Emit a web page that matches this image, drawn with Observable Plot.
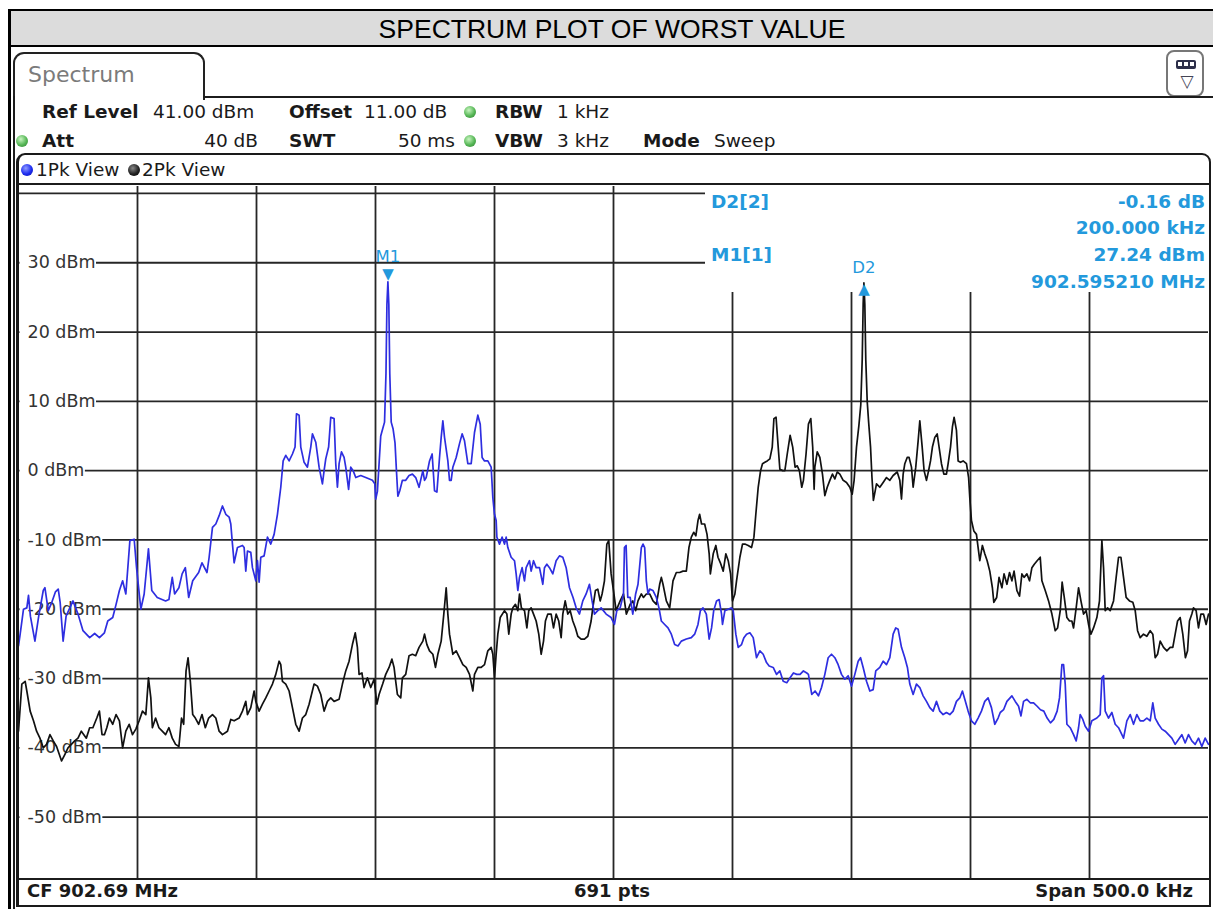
<!DOCTYPE html>
<html><head><meta charset="utf-8">
<script src="https://cdn.jsdelivr.net/npm/d3@7"></script>
<script src="https://cdn.jsdelivr.net/npm/@observablehq/plot@0.6"></script>
<style>
body{margin:0;background:#fff;}
#page{position:relative;width:1213px;height:909px;overflow:hidden;font-family:"DejaVu Sans",sans-serif;color:#1a1a1a;}
.a{position:absolute;white-space:nowrap;}
.ln{position:absolute;background:#1c1c1c;}
.h{font-size:18.5px;line-height:22px;}
.b{font-weight:bold;}
.gdot{position:absolute;width:12px;height:12px;border-radius:50%;background:radial-gradient(circle at 40% 35%,#c8f5c0,#55b655 55%,#2f7d32);}
</style></head>
<body><div id="page">
<div class="a" style="left:8px;top:9px;width:1210px;height:38px;box-sizing:border-box;background:#dcdcdc;border-top:2px solid #000;border-bottom:2px solid #000;"></div>
<div class="a" style="left:0;width:1224px;top:12px;height:34px;line-height:34px;text-align:center;font-family:'Liberation Sans',Arial,sans-serif;font-size:26.5px;color:#000;">SPECTRUM PLOT OF WORST VALUE</div>
<div class="a" style="left:13px;top:52px;width:192px;height:48px;box-sizing:border-box;border:2px solid #222;border-bottom:none;border-radius:11px 11px 0 0;background:#fff;"></div>
<div class="a" style="left:28px;top:62px;line-height:26px;font-size:22px;color:#7b7b7b;">Spectrum</div>
<div class="a" style="left:1166px;top:50px;width:38px;height:47px;box-sizing:border-box;border:2px solid #777;border-radius:8px;background:#fff;"></div>
<div class="a" style="left:1176px;top:60px;width:20px;height:9px;background:#2d2f4a;border-radius:2px;"></div>
<div class="a" style="left:1178px;top:62px;width:4px;height:4px;background:#fff;"></div>
<div class="a" style="left:1184px;top:62px;width:4px;height:4px;background:#fff;"></div>
<div class="a" style="left:1190px;top:62px;width:4px;height:4px;background:#fff;"></div>
<div class="a" style="left:1176px;top:70px;width:22px;line-height:22px;text-align:center;font-size:17px;color:#445;">▽</div>

<div class="a h b" style="left:42px;top:101px;">Ref Level</div>
<div class="a h" style="left:153px;top:101px;">41.00 dBm</div>
<div class="a h b" style="left:289px;top:101px;">Offset</div>
<div class="a h" style="left:364px;top:101px;">11.00 dB</div>
<div class="gdot" style="left:464px;top:106px;"></div>
<div class="a h b" style="left:495px;top:101px;">RBW</div>
<div class="a h" style="left:557px;top:101px;">1 kHz</div>

<div class="gdot" style="left:16px;top:135px;"></div>
<div class="a h b" style="left:42px;top:130px;">Att</div>
<div class="a h" style="right:955px;top:130px;">40 dB</div>
<div class="a h b" style="left:289px;top:130px;">SWT</div>
<div class="a h" style="right:758px;top:130px;">50 ms</div>
<div class="gdot" style="left:464px;top:135px;"></div>
<div class="a h b" style="left:495px;top:130px;">VBW</div>
<div class="a h" style="left:557px;top:130px;">3 kHz</div>
<div class="a h b" style="left:643px;top:130px;">Mode</div>
<div class="a h" style="left:714px;top:130px;">Sweep</div>

<div class="a" style="left:21px;top:164px;width:12px;height:12px;border-radius:50%;background:radial-gradient(circle at 40% 35%,#8f9bff,#1d2cf0 55%,#0a12a0);"></div>
<div class="a h" style="left:36px;top:159px;">1Pk View</div>
<div class="a" style="left:128px;top:164px;width:12px;height:12px;border-radius:50%;background:radial-gradient(circle at 40% 35%,#888,#222 55%,#000);"></div>
<div class="a h" style="left:142px;top:159px;">2Pk View</div>

<div id="chart" class="a" style="left:0;top:184px;width:1213px;height:696px;"></div>

<div class="a b" style="left:27px;top:880px;font-size:18px;line-height:22px;">CF 902.69 MHz</div>
<div class="a b" style="left:0;width:1224px;text-align:center;top:880px;font-size:18px;line-height:22px;">691 pts</div>
<div class="a b" style="right:20px;top:880px;font-size:18px;line-height:22px;">Span 500.0 kHz</div>

<div class="a" style="left:16px;top:153px;width:1195px;height:754px;box-sizing:border-box;border:2.5px solid #1a1a1a;border-left-width:3px;border-radius:9px 9px 0 0;"></div>
<div class="ln" style="left:17px;top:183px;width:1193px;height:2px;"></div>
<div class="ln" style="left:17px;top:878px;width:1193px;height:2px;"></div>
<div class="ln" style="left:203px;top:96px;width:1010px;height:2px;"></div>
<div class="ln" style="left:13px;top:96px;width:2px;height:813px;"></div>
<div class="ln" style="left:8px;top:9px;width:2.5px;height:900px;background:#000;"></div>
</div>
<script>
// Frequency axis: offset in kHz from the start frequency (CF 902.69 MHz, span 500 kHz)
const levelGrid = [40, 30, 20, 10, 0, -10, -20, -30, -40, -50];
const levelLabels = [30, 20, 10, 0, -10, -20, -30, -40, -50];
const freqGrid = [50, 100, 150, 200, 250, 300, 350, 400, 450];

// Trace 1 (1Pk View, blue): [kHz offset, dBm]
const trace1 = [[0,-25.3],[0.7,-23.6],[2.1,-20],[3.5,-19.8],[4.2,-18],[5,-21],[6.9,-24.6],[8.5,-21],[10.4,-17.3],[11.1,-16.9],[12.5,-20.2],[14,-19],[15.5,-17.5],[16.7,-17.1],[17.5,-19],[18.75,-24.6],[20,-21],[22.9,-18.8],[25,-20.7],[27.1,-23.1],[29.9,-24.1],[32,-23.5],[34,-24.1],[36.1,-23.4],[37.5,-21.7],[39.6,-21.2],[41,-19.3],[42.4,-17.3],[43.75,-15.9],[45.1,-17.8],[46.8,-10.1],[48.6,-9.9],[49.6,-14],[51.4,-20],[52.8,-17.8],[54.6,-11.3],[56,-17.3],[58.3,-18.3],[61.8,-18.8],[63.2,-18.6],[64.6,-15.4],[65.6,-17.8],[67.4,-16.9],[68.75,-14.9],[70.1,-14],[71.5,-18.3],[73.2,-15.9],[75.7,-14.7],[77.1,-13.3],[79.2,-14.7],[80.1,-12.5],
[81.5,-8.2],[82.9,-7.7],[84.3,-6.5],[85.7,-5.1],[87.1,-6.3],[88.5,-6.7],[89.2,-7.7],[89.9,-10.6],[90.6,-13.3],[92,-11.1],[94.1,-10.8],[94.8,-11.1],[95.5,-14.5],[96.2,-11.6],[97.6,-11.8],[98.3,-14],[99.7,-15.9],[100.4,-13],[101.1,-16.1],[101.8,-12.5],[103.2,-12.3],[104.6,-9.6],[106,-10.6],[107.4,-9.2],[108.8,-6.3],[110.2,-2.4],[111.2,1.4],[112.3,2.2],[113.7,1.4],[115.1,2.4],[116.2,3.4],[116.8,8.2],[117.9,8],[118.6,3.4],[120,1.2],[121.4,0.5],[122.8,3.4],[123.5,5.3],[124.9,4.1],[126.3,0.5],[127.7,-1.9],[128.4,0],[129.1,1.7],[130.3,3.4],[131.2,7.7],[132.6,7.5],[133.3,1],[134,-2.4],[134.7,1],[135.7,2.7],[136.8,1.9],[137.5,0.5],[138.7,-2.7],[139.6,0.5],[140.6,0],[141.7,-1],[143.8,-0.7],[145.9,-1],[148.7,-1.4],[149.7,-1.9],[150.1,-4.1],
[150.8,-3],[151.5,1],[152.2,5],[153,6],[153.8,7],[154.4,14],[154.8,24],[155.21,27.24],[155.6,24],[156,14],[156.6,7],[157.4,6],[158.2,4],[158.8,0],[159.4,-3.7],
[160.2,-2.9],[161.3,-1.4],[162.7,-1.4],[164.1,-0.7],[165.5,-0.5],[166.9,-1],[168.3,-2.4],
[169.9,0],[170.6,-1.4],[171.3,-1],[172.7,1.4],[173.8,2.4],[174.8,-2.9],[175.8,-3.1],[176.9,1.9],[177.6,4.8],[178.3,7.2],[179,4.8],[180.4,1.4],[181.1,-1.4],[181.8,-1.4],[182.5,0.5],[183.9,1.9],[185.3,3.9],[186.4,5.3],[187.4,4.3],[188.8,1],[190.2,1],[191.6,5.5],[193,8],[194,6.7],[194.8,1.9],[195.8,1.4],[197.2,1.4],[198.6,0.5],[199.3,-3.9],[200,-6.3],[200.7,-7.2],[201,-9.6],[202.1,-10.6],[203.2,-9.6],[204.2,-10.6],[204.9,-9.6],[205.6,-11.1],[207,-12.5],[208.4,-13],[209.1,-14.9],[209.8,-17.3],[210.5,-15.4],[211.6,-14],[212.6,-15.9],[213.3,-14],[214.7,-13],[215.4,-14.5],[216.4,-13],[217.5,-14],[218.9,-14],[220.3,-16.4],[221,-14],[222,-13.5],[223.1,-14],[224.5,-14.9],[225.9,-13],[227.3,-12.3],[228.7,-12.5],[230.1,-14],[231.5,-16.9],[233,-18.3],[234.3,-19.8],[235.7,-20.7],[237.1,-18.8],[238.5,-17.8],[239.9,-16.4],[241,-18.8],[242,-20.7],[243.4,-20.2],[244.8,-19.8],[246.9,-20.7],[249,-21.2],[250.4,-22.2],[251.4,-20.2],
[252.8,-19.8],[254.2,-17.8],[254.6,-11.1],[255.3,-10.8],[256,-18.3],[257,-18.3],[258.1,-20.7],[259.3,-17.8],[260.3,-16.4],[261.7,-11.1],[262.4,-10.6],[263.1,-11.1],[263.8,-15.9],[264.5,-17.8],[265.2,-17.1],[266.6,-17.3],[268,-18.3],[269.1,-19.8],[270.1,-21.7],[271.5,-22.2],[272.9,-22.7],[274.3,-23.6],[275.7,-25.1],[277.1,-25.3],[278.5,-24.6],[280.6,-24.3],[282.7,-24.1],[284.1,-23.6],[285.5,-22.2],[286.5,-20.2],[287.6,-19.8],[289,-20.7],[290.2,-24.3],[291.2,-22.7],[292.1,-20.2],[293.3,-18.8],[294.4,-18.6],[295.4,-20.7],[295.8,-22.2],[296.8,-20.2],[298.2,-20],[299.6,-19.8],[300.3,-20.2],[301.4,-23.6],[302.4,-25.5],[303.8,-25.1],[304.8,-24.1],[305.9,-23.6],[307.3,-23.4],[308.7,-24.1],[310.1,-27],[311.5,-26],[312.9,-26.5],[314.3,-27.7],[315.4,-28.2],[317.1,-28.4],[318.5,-29.4],[319.9,-28.9],[321.3,-30.4],[322.8,-30.6],[324.2,-29.9],[325.6,-29.2],[327,-29.4],[328.4,-29.4],[329.8,-28.9],[331.2,-29.2],[331.9,-29.4],[333.3,-32.3],[334.7,-31.8],[336.1,-32.5],
[337.4,-31.3],[338.8,-29.4],[340.2,-27],[341.6,-26.5],[343,-27],[344.4,-28],[345.8,-29.4],[347.2,-30.1],[348.6,-29.6],[350,-31.1],[351.4,-29.4],[352.8,-27.5],[353.8,-27],[354.9,-28.4],[356.3,-30.4],[357.7,-31.8],[359.1,-31.6],[360.2,-28.9],[361.9,-28.4],[363.3,-27.5],[364.7,-28],[366.1,-27],[367.5,-23.6],[368.6,-22.7],[369.6,-22.9],[371,-25.5],[372.4,-27],[373.5,-28.4],[374.5,-30.8],[375.9,-32.3],[377.3,-30.8],[378.7,-31.3],[380.1,-32.5],[381.5,-33.3],[382.9,-34.2],[384.3,-34.7],[385.7,-33.3],[387.1,-34.7],[388.5,-35.2],[389.9,-34.9],[391.3,-35.2],[392.7,-34.7],[394.1,-33.3],[395.5,-32.8],[396.6,-31.8],[397.6,-33],[399,-34.7],[400.4,-36.1],[401.8,-36.6],[403.2,-35.7],[404.6,-34.7],[406,-33.3],[407.4,-32.8],[408.8,-34.2],[410.2,-36.6],[411.6,-35.7],
[412.5,-34.9],[413.9,-34.5],[415.3,-33.3],[417.4,-32.5],[418.8,-33.3],[420.2,-34],[421.2,-35.4],[422.3,-33.3],[423.7,-33],[425.1,-33.5],[426.5,-33.5],[428,-34],[429.4,-34.5],[430.8,-34.7],[432.2,-35.7],[433.6,-36.4],[435,-35.9],[436.4,-34.7],[437.4,-32.8],[438.4,-28],[439.1,-28],[439.8,-30.8],[440.5,-36.6],[441.9,-37.1],[443.3,-38.1],[444.4,-39],[445.4,-37.1],[446.1,-35.2],[447.2,-35.9],[448.2,-36.9],[449.6,-37.6],[451,-36.1],[453.1,-35.7],[454.5,-35.2],[455.2,-29.9],[455.9,-29.6],[456.6,-34.7],[458,-35.7],[459.4,-34.9],[460.8,-36.6],[462.2,-37.1],[464.3,-38.6],[465.7,-36.1],[467.1,-35.2],[468.5,-36.6],[469.9,-35.2],[471.3,-36.1],[472.7,-36.1],[474.1,-35.7],[475.5,-36.1],[476.6,-33.5],[477.6,-35.7],[479,-36.6],[480.4,-37.3],[481.8,-37.6],[483.2,-38.1],[484.6,-38.6],[486,-39.5],[487.4,-38.8],[488.8,-38.1],[490.2,-39.3],[491.6,-38.1],[493,-39],[494.4,-39.5],[495.8,-38.6],[497.2,-39.8],[498.6,-38.6],[500,-39.5]];

// Trace 2 (2Pk View, black): [kHz offset, dBm]
const trace2 = [[0,-37.6],[1.4,-30.8],[2.8,-30.4],[3.5,-31.8],[4.9,-34.7],[6.3,-36.1],[7.6,-37.6],[9,-38.6],[10.4,-40],[11.8,-39.5],[13.2,-38.1],[14.6,-39],[16,-39.8],[18.1,-41.9],[19.4,-41],[20.8,-40],[22.2,-39.5],[23.6,-39],[25,-38.6],[26.4,-37.6],[28.5,-38.6],[29.9,-37.1],[31.25,-37.1],[32.9,-35.7],[34,-34.7],[35.1,-38.1],[36.1,-38.1],[37.1,-37.1],[38.2,-35.7],[39.6,-36.6],[41,-35.2],[42.4,-36.1],[43.75,-40],[45.1,-37.6],[46.5,-36.6],[47.9,-38.1],[49.3,-37.3],[50.7,-36.1],[52.1,-34.7],[53.5,-35.2],[54.6,-29.9],[55.6,-32.8],[56.25,-37.1],[57.6,-35.7],[59,-37.1],[60.4,-37.6],[61.8,-38.1],[63.2,-37.1],[64.6,-38.6],[66,-39.5],[67.4,-39.8],[68.5,-35.7],[69.4,-36.6],[70.4,-28.9],[71.25,-27],[72.2,-30.4],[73.2,-35.2],[74.3,-35.7],[75.7,-36.6],[77.1,-35.2],[78.5,-37.1],[79.9,-35.7],
[81.5,-35.2],[82.9,-35.7],[84.3,-37.6],[85.7,-38.1],[87.8,-37.6],[89.2,-35.9],[90.6,-36.1],[92.7,-35.7],[94.1,-34.7],[95.5,-33.3],[96.2,-35.2],[97.6,-34.2],[99,-31.8],[99.7,-33.3],[101.1,-34.7],[102.5,-33.7],[103.9,-32.8],[105.3,-31.8],[106.7,-30.8],[108.1,-29.4],[109.5,-27.5],[110.2,-28],[110.9,-30.4],[112.3,-30.8],[113.7,-31.8],[115.1,-34.2],[116.5,-36.6],[117.9,-37.6],[119.3,-35.7],[120.7,-35.2],[122.1,-33.7],[124.2,-30.8],[125.6,-31.1],[127,-32.3],[128.4,-34.7],[129.8,-33.3],[131.2,-32.8],[132.6,-33.3],[134.7,-33],[136.1,-30.8],[137.5,-28.9],[138.9,-27.5],[140.3,-25.1],[141.5,-23.4],[142.4,-25.5],[143.1,-29.4],[144.3,-29.2],[145.2,-31.3],[146.6,-29.9],[148,-31.3],[149.4,-30.1],[150.6,-33.7],[151.5,-32.3],[153,-30.8],[154.3,-29.4],[155.7,-28.4],[156.9,-27.2],[157.8,-28.4],[158.5,-30.4],[159.2,-32.3],[160.6,-32.8],[161.3,-29.9],[162.7,-29.4],[164.1,-26.7],[165.5,-26.5],[166.9,-26.7],[168.3,-25.5],
[169.9,-24.6],[170.6,-23.6],[171.6,-25.1],[172.7,-26],[174.1,-26.5],[175.2,-28.4],[176.2,-26.5],[177.6,-24.6],[178.7,-20.7],[179.7,-16.9],[180.4,-20.7],[181.1,-23.6],[182.5,-26.5],[183.9,-26],[185.3,-27],[186.7,-28],[188.1,-28.4],[189.5,-29.4],[190.9,-31.8],[191.6,-29.4],[193,-28.4],[194.4,-28.4],[195.8,-28],[197.2,-26],[198.6,-25.5],[199.3,-26.5],[200,-29.9],[200.7,-26.5],[201.4,-23.6],[202.4,-21.2],[204.2,-20.2],[205.2,-20.7],[206,-23.6],[207,-20.7],[207.7,-19.8],[208.8,-19.3],[209.8,-20.2],[210.5,-17.8],[211.3,-19.8],[212.6,-20.2],[213.6,-22.7],[214.4,-20.2],[215.4,-19.8],[216.4,-20.7],[217.5,-21.7],[218.6,-23.6],[219.6,-26.5],[220.6,-24.6],[221.4,-21.7],[222.4,-20.7],[223.8,-20.7],[224.8,-22.7],[225.9,-20.7],[227,-21.7],[228,-24.1],[228.7,-20.7],[229.7,-18.8],[230.8,-20.7],[231.8,-20.2],[232.9,-21.7],[234,-22.7],[235,-23.9],[236.4,-24.3],[237.8,-24.3],[239.2,-23.9],[240.6,-21.7],[241.3,-19.8],[242.4,-17.3],[243.4,-17.1],[244.4,-18.8],[245.2,-17.8],[246.2,-15.9],[247.2,-10.6],[248,-10.1],[249,-14.9],[250,-17.3],[251.1,-20.2],
[252.8,-18.8],[254.2,-17.8],[255.4,-20.7],[256,-20.2],[257,-19.3],[258.1,-18.8],[259.3,-20.2],[260.3,-18.8],[261.7,-17.8],[262.6,-18.3],[263.8,-17.8],[265.2,-17.8],[266.6,-18.8],[268,-19.3],[269.4,-16.4],[270.1,-15.4],[270.8,-16.4],[272.2,-18.8],[273.6,-19.8],[275,-15.9],[276.4,-14.7],[277.8,-14.7],[279.2,-14.5],[280.6,-14.5],[281.7,-11.1],[282.7,-9.6],[283.7,-8.9],[284.6,-9.4],[285.5,-7.2],[286.2,-6.3],[287,-7.7],[288.3,-7.7],[289.3,-9.2],[290.2,-12],[290.7,-14.9],[291.9,-12],[293,-10.8],[293.9,-12.5],[294.9,-13.3],[296.1,-14.5],[297.2,-12],[298.2,-13],[299.2,-14.9],[300,-18.8],[301,-17.8],[301.7,-15.9],[303.1,-12.5],[304.2,-10.6],[305.2,-10.6],[306.6,-10.8],[308,-11.1],[309,-9.6],[309.8,-6.3],[310.8,-2.4],[311.8,0],[312.6,1],[313.6,1.2],[314.6,1.4],[315.7,1.7],[316.7,3.4],[317.4,7.5],[318.3,7.7],[319.2,3.4],[319.9,0.2],[321.1,0],[322,0],[323,2.4],[324.2,5.1],[325.3,3.4],[326.3,0.5],[327.2,0.7],[328.1,0],[329.1,-2.4],[329.8,-1.4],[330.9,2.4],[331.9,6.7],[332.9,7.5],[333.7,3.4],[334.3,-2.7],
[334.6,0.5],[335.6,2.7],[336.7,1.9],[337.8,-0.5],[338.8,-3.6],[339.8,-2.4],[340.9,-1.4],[342,-0.5],[343,-1.2],[344,-0.2],[345.1,-0.5],[346.5,-1.4],[347.9,-1.7],[349.3,-2.4],[350.3,-3.4],[351.1,-1.4],[352.1,3.4],[353.1,6.5],[353.9,9.5],[354.5,16],[354.9,24],[355.21,27.08],[355.6,24],[356,16],[356.6,10],[357.2,7],[358,3.4],[358.6,-1],[359.2,-4.3],[360.5,-1.9],[361.9,-2.4],[363.3,-1.7],[364.7,-1],[366.1,-1.4],[367.5,-0.7],[369.2,-0.2],[370.3,-1.4],[371,-4.1],[371.7,-0.5],[372.4,1],[373.4,1.9],[374.2,1.9],[375.2,0.5],[375.9,-2.4],[377,0.5],[378,4.3],[378.7,7.2],[379.7,3.4],[380.5,0],[381.5,-1.4],[382.4,0],[383.2,1.4],[384,3.4],[385,4.8],[386,5.3],[386.8,3.4],[387.8,1],[388.8,-0.5],[389.9,-0.5],[390.6,1],[391.6,3.4],[392.4,6.3],[393.1,7.7],[394.1,5.8],[394.8,1.4],[395.8,1.2],[396.9,1.4],[398.3,1],[399.2,-1],[399.7,-3.9],[400.4,-7.2],[401.4,-8.7],[402.5,-9.2],[403.2,-11.1],[403.9,-13],[405,-10.8],[406,-12],[407,-13],[408.1,-14.5],[409.2,-16.9],[409.8,-19],[411,-18.3],[412,-15.4],
[413.2,-16.9],[414.1,-14.9],[415.3,-16.4],[416.4,-14.7],[417.4,-15.9],[418.3,-14.5],[419.5,-17.3],[420.6,-18.1],[421.6,-14.9],[422.5,-15.4],[423.7,-14.9],[424.8,-15.9],[425.8,-14],[426.8,-13.5],[428,-13],[429.3,-12.5],[430,-15.9],[431.4,-17.3],[432.8,-18.8],[434.2,-20.7],[435.6,-23.1],[436.6,-22.7],[437.7,-20.2],[438.5,-16.1],[439.4,-18.3],[440.5,-21.2],[441.6,-21.7],[442.6,-21.7],[443.3,-22.7],[444.4,-19.8],[445.4,-16.9],[446.4,-18.8],[447.5,-20.7],[448.6,-20.2],[449.6,-22.2],[450.6,-23.6],[451.7,-22.7],[453.1,-21.2],[454.2,-18.8],[455.2,-10.1],[455.9,-14],[456.6,-20.2],[457.6,-19.8],[458.7,-20.2],[460.1,-18.8],[461.2,-15.4],[462.2,-12.5],[463.2,-12.5],[464.3,-15.4],[465.4,-18.3],[466.8,-18.8],[468.2,-19],[469.2,-20.2],[470.2,-23.1],[471.3,-24.1],[472.7,-23.6],[474.1,-23.9],[475.5,-23.1],[476.6,-23.6],[477.6,-27],[478.6,-26.5],[479.7,-24.6],[481.1,-25.5],[482.5,-26],[483.9,-25.5],[485,-25.5],[486,-23.6],[487,-21.7],[488.1,-21.2],[489.2,-23.6],[490.3,-27],[491.2,-26],[492,-21.7],[493,-20.7],[493.7,-19.8],[494.8,-20.2],[495.8,-22.7],[496.8,-20.7],[497.9,-20.7],[499,-22.2],[500,-20.7]];

const markerIds = ["M1", "D2"];
const markerFreqs = [155.21, 355.21];
const markerLevels = [27.24, 27.08];
const tableNames = ["D2[2]", "", "M1[1]", ""];
const tableValues = ["-0.16 dB", "200.000 kHz", "27.24 dBm", "902.595210 MHz"];

const markerColor = "#2399dc";
const gridColor = "#262626";
const markers = markerIds.map((id, i) => ({id, f: markerFreqs[i], L: markerLevels[i]}));
const m1 = markers.filter(m => m.id === "M1");
const d2 = markers.filter(m => m.id === "D2");

function markerTable(index, scales, values, dims) {
  const g = d3.create("svg:g");
  const right = dims.width - dims.marginRight;
  const top = dims.marginTop;
  g.append("rect").attr("x", right - 503).attr("y", top).attr("width", 503).attr("height", 106).attr("fill", "white");
  tableValues.forEach((v, i) => {
    const y = top + 15 + i * 26.7;
    if (tableNames[i]) g.append("text").attr("x", right - 497).attr("y", y).attr("dy", "0.36em").attr("text-anchor", "start")
      .attr("fill", markerColor).attr("font-weight", "bold").attr("font-size", 18.5).text(tableNames[i]);
    g.append("text").attr("x", right - 3).attr("y", y).attr("dy", "0.36em").attr("text-anchor", "end")
      .attr("fill", markerColor).attr("font-weight", "bold").attr("font-size", 18.5).text(v);
  });
  return g.node();
}

const chart = Plot.plot({
  width: 1213, height: 696,
  marginLeft: 18, marginRight: 5, marginTop: 2, marginBottom: 1,
  x: {domain: [0, 500], axis: null},
  y: {domain: [-59, 41], axis: null},
  style: {background: "transparent", fontFamily: "DejaVu Sans, sans-serif", overflow: "visible"},
  marks: [
    Plot.ruleX(freqGrid, {x: d => d, stroke: gridColor, strokeWidth: 1.8}),
    Plot.ruleY(levelGrid, {y: d => d, stroke: gridColor, strokeWidth: 1.8}),
    markerTable,
    Plot.text(levelLabels, {frameAnchor: "left", y: d => d, text: d => `${d} dBm`, dx: 9, textAnchor: "start", fontSize: 17.5, fill: "#333"}),
    Plot.line(trace2, {x: d => d[0], y: d => d[1], stroke: "#111", strokeWidth: 1.7}),
    Plot.line(trace1, {x: d => d[0], y: d => d[1], stroke: "#2e2ee0", strokeWidth: 1.7}),
    Plot.text(m1, {x: "f", y: "L", text: () => "▼", dy: -8, fontSize: 15, fill: markerColor}),
    Plot.text(d2, {x: "f", y: "L", text: () => "▲", dy: 6, fontSize: 15, fill: markerColor}),
    Plot.text(m1, {x: "f", y: "L", text: "id", dy: -25, fontSize: 16.5, fill: markerColor}),
    Plot.text(d2, {x: "f", y: "L", text: "id", dy: -15, fontSize: 16.5, fill: markerColor})
  ]
});
document.getElementById("chart").appendChild(chart);

// white background behind the level labels so each grid line starts after its text
const ysc = chart.scale("y");
const yOf = v => (ysc && typeof ysc.apply === "function") ? ysc.apply(v) : 2 + (41 - v) / 100 * 693;
const labelG = chart.querySelectorAll('g[aria-label="text"]')[0];
if (labelG) labelG.querySelectorAll("text").forEach((t, i) => {
  const w = t.getComputedTextLength();
  const r = document.createElementNS("http://www.w3.org/2000/svg", "rect");
  r.setAttribute("x", 19.5);
  r.setAttribute("y", yOf(levelLabels[i]) - 3);
  r.setAttribute("width", 7.5 + w + 1);
  r.setAttribute("height", 6);
  r.setAttribute("fill", "white");
  labelG.parentNode.insertBefore(r, labelG);
});
</script>
</body></html>
